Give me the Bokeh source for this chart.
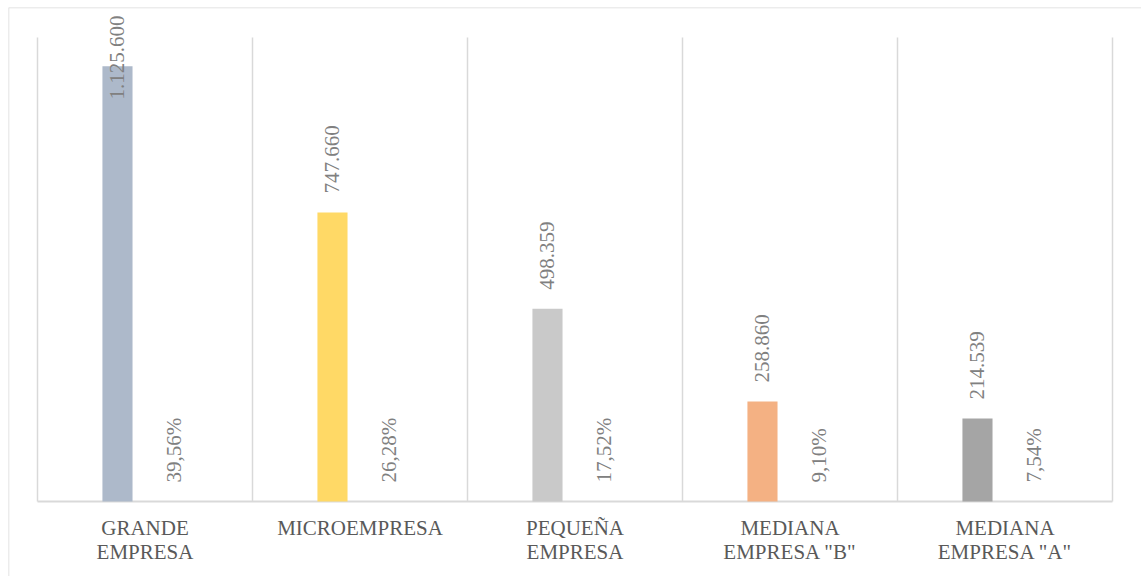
from bokeh.plotting import figure
from bokeh.models import FactorRange, Range1d, ColumnDataSource, Span
from bokeh.transform import dodge
from bokeh.core.properties import value
from bokeh.embed import file_html
from bokeh.resources import INLINE

# ---------------- data ----------------
categories = ["GRANDE EMPRESA", "MICROEMPRESA", "PEQUEÑA EMPRESA",
              "MEDIANA EMPRESA \"B\"", "MEDIANA EMPRESA \"A\""]
category_labels = ["GRANDE\nEMPRESA", "MICROEMPRESA", "PEQUEÑA\nEMPRESA",
                   "MEDIANA\nEMPRESA \"B\"", "MEDIANA\nEMPRESA \"A\""]
companies = [1125600, 747660, 498359, 258860, 214539]
percentages = [39.56, 26.28, 17.52, 9.10, 7.54]
bar_colors = ["#ADB9CA", "#FFD966", "#C9C9C9", "#F4B183", "#A5A5A5"]
axis_max = 1200000

# ---------------- layout constants ----------------
W, H = 1141, 576
FRAME_L, FRAME_T = 8, 7
PLOT_TOP_PX, BASE_PX = 37, 501
CAT_W = 215.0
UNIT = axis_max / (BASE_PX - PLOT_TOP_PX)          # data units per pixel
Y_END = axis_max + (PLOT_TOP_PX - FRAME_T) * UNIT
Y_START = -(H - BASE_PX) * UNIT
side_pad_px = ((W - FRAME_L) - 5 * CAT_W) / 2.0
RANGE_PAD = side_pad_px / CAT_W                   # absolute, applied on each side

FONT = "Liberation Serif"
FS = 21
LABEL_GAP = 19
TOP_LIMIT = 15

def fmt_thousands(v):
    return f"{v:,}".replace(",", ".")

def fmt_pct(v):
    return f"{v:.2f}".replace(".", ",") + "%"

def est_len(s):
    w = 0.0
    for ch in s:
        if ch.isdigit():
            w += 0.5
        elif ch in ".,":
            w += 0.25
        elif ch == "%":
            w += 0.833
        else:
            w += 0.5
    return w * FS

value_texts = [fmt_thousands(v) for v in companies]
pct_texts = [fmt_pct(v) for v in percentages]

# label anchor (text start) for value labels, kept inside the chart
value_label_y = []
for v, t in zip(companies, value_texts):
    start_px = BASE_PX - v / UNIT - LABEL_GAP
    if start_px - est_len(t) < TOP_LIMIT:
        start_px = TOP_LIMIT + est_len(t)
    value_label_y.append((BASE_PX - start_px) * UNIT)

src = ColumnDataSource(dict(
    cat=categories, lab=category_labels, val=companies, col=bar_colors,
    vtxt=value_texts, vy=value_label_y, ptxt=pct_texts,
    zero=[0] * len(categories), top=[axis_max] * len(categories),
))

p = figure(width=W, height=H,
           x_range=FactorRange(factors=categories, range_padding=RANGE_PAD,
                               range_padding_units="absolute"),
           y_range=Range1d(Y_START, Y_END),
           x_axis_location=None, y_axis_location=None,
           output_backend="svg", toolbar_location=None,
           min_border_left=FRAME_L, min_border_top=FRAME_T,
           min_border_right=0, min_border_bottom=0)
p.grid.visible = False
p.outline_line_color = None
p.background_fill_color = "white"
p.border_fill_color = "white"

GRID = "#D9D9D9"

# outer chart border (top + left)
p.add_layout(Span(location=Y_END, dimension="width", line_color=GRID, line_width=1.5))
p.add_layout(Span(location=-RANGE_PAD, dimension="height", line_color=GRID, line_width=1.5))

# category separators
p.segment(x0=dodge("cat", -0.5, range=p.x_range), y0="zero",
          x1=dodge("cat", -0.5, range=p.x_range), y1="top",
          source=src, line_color=GRID, line_width=1.5)
last = ColumnDataSource(dict(c0=[categories[0]], c1=[categories[-1]], y=[0], t=[axis_max]))
p.segment(x0=dodge("c1", 0.5, range=p.x_range), y0="y",
          x1=dodge("c1", 0.5, range=p.x_range), y1="t",
          source=last, line_color=GRID, line_width=1.5)
# baseline
p.segment(x0=dodge("c0", -0.5, range=p.x_range), y0="y",
          x1=dodge("c1", 0.5, range=p.x_range), y1="y",
          source=last, line_color=GRID, line_width=2)

# bars
p.vbar(x=dodge("cat", -0.128, range=p.x_range), top="val", bottom=0, width=0.14,
       fill_color="col", line_color=None, source=src)

# value labels
p.text(x=dodge("cat", -0.128, range=p.x_range), y="vy", text="vtxt", source=src,
       angle=1.5708, text_align="left", text_baseline="middle",
       text_font=value(FONT), text_font_size=f"{FS}px", text_color="#808080")

# percentage labels
p.text(x=dodge("cat", 0.137, range=p.x_range), y="zero", text="ptxt", source=src,
       angle=1.5708, text_align="left", text_baseline="middle", y_offset=-LABEL_GAP,
       text_font=value(FONT), text_font_size=f"{FS}px", text_color="#808080")

# category labels
p.text(x="cat", y="zero", text="lab", source=src, y_offset=14,
       text_align="center", text_baseline="top", text_line_height=1.02,
       text_font=value(FONT), text_font_size=f"{FS}px", text_color="#595959")

open("out.html", "w").write(file_html(p, INLINE))
